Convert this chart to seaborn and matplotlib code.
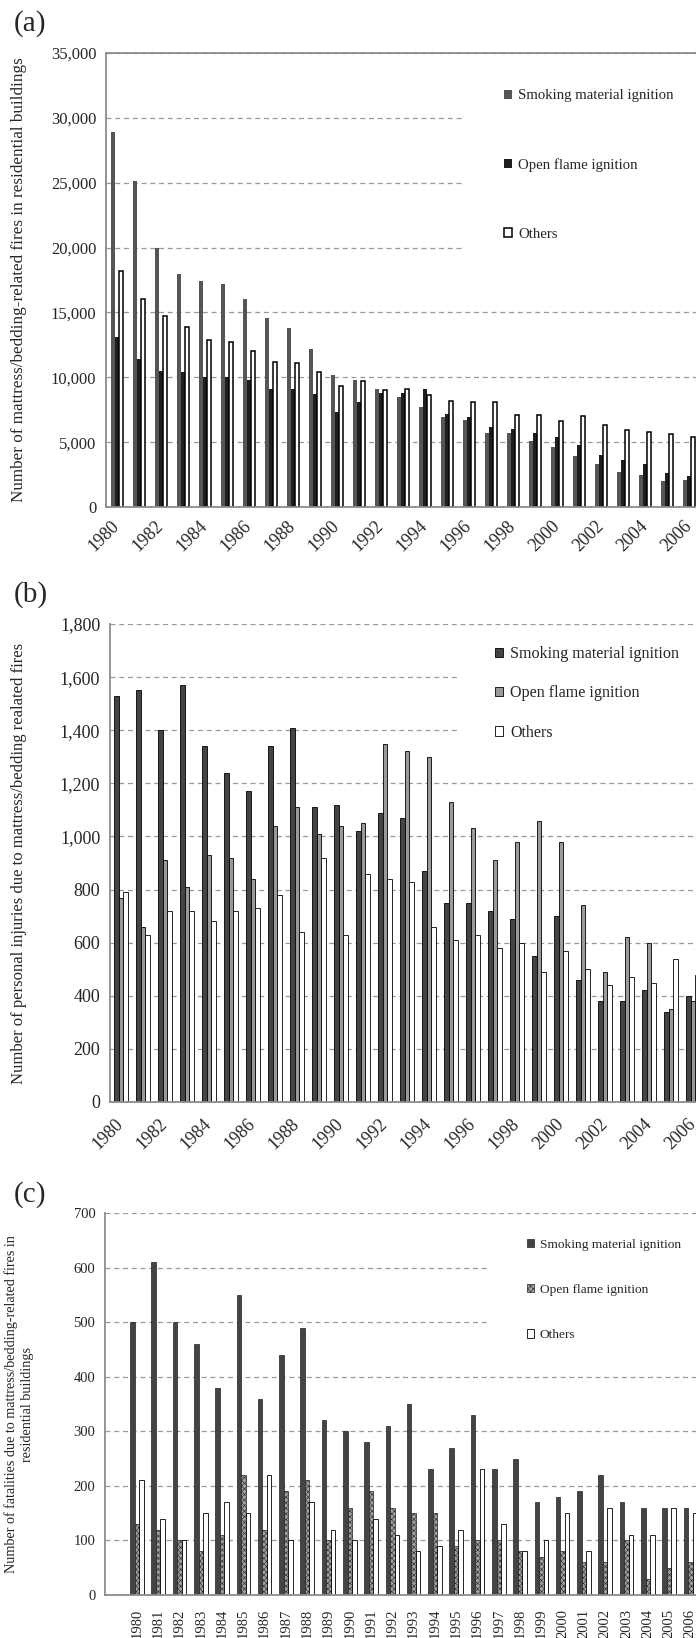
import matplotlib
matplotlib.use('Agg')
import matplotlib.pyplot as plt
import matplotlib.ticker as mticker
from matplotlib.patches import Rectangle
import numpy as np
import pandas as pd
import seaborn as sns

years = list(range(1980, 2007))
causes = ['Smoking material ignition', 'Open flame ignition', 'Others']

# (a) number of fires
fires_smoking = [28900, 25100, 20000, 18000, 17400, 17200, 16000, 14600, 13800, 12200,
                 10200, 9800, 9100, 8500, 7700, 6900, 6700, 5700, 5700, 5100,
                 4600, 3900, 3300, 2700, 2500, 2000, 2100]
fires_open = [13100, 11400, 10500, 10400, 10000, 10000, 9800, 9100, 9100, 8700,
              7300, 8100, 8800, 8800, 9100, 7200, 6900, 6200, 6000, 5700,
              5400, 4800, 4000, 3600, 3300, 2600, 2400]
fires_other = [18200, 16000, 14700, 13900, 12900, 12700, 12000, 11200, 11100, 10400,
               9300, 9700, 9000, 9100, 8600, 8200, 8100, 8100, 7100, 7100,
               6600, 7000, 6300, 5900, 5800, 5600, 5400]

# (b) personal injuries
inj_smoking = [1530, 1550, 1400, 1570, 1340, 1240, 1170, 1340, 1410, 1110,
               1120, 1020, 1090, 1070, 870, 750, 750, 720, 690, 550,
               700, 460, 380, 380, 420, 340, 400]
inj_open = [770, 660, 910, 810, 930, 920, 840, 1040, 1110, 1010,
            1040, 1050, 1350, 1320, 1300, 1130, 1030, 910, 980, 1060,
            980, 740, 490, 620, 600, 350, 380]
inj_other = [790, 630, 720, 720, 680, 720, 730, 780, 640, 920,
             630, 860, 840, 830, 660, 610, 630, 580, 600, 490,
             570, 500, 440, 470, 450, 540, 480]

# (c) fatalities
fat_smoking = [500, 610, 500, 460, 380, 550, 360, 440, 490, 320,
               300, 280, 310, 350, 230, 270, 330, 230, 250, 170,
               180, 190, 220, 170, 160, 160, 160]
fat_open = [130, 120, 100, 80, 110, 220, 120, 190, 210, 100,
            160, 190, 160, 150, 150, 90, 100, 100, 80, 70,
            80, 60, 60, 100, 30, 50, 60]
fat_other = [210, 140, 100, 150, 170, 150, 220, 100, 170, 120,
             100, 140, 110, 80, 90, 120, 230, 130, 80, 100,
             150, 80, 160, 110, 110, 160, 150]


def make_frame(s, o, t):
    return pd.DataFrame({
        'year': [str(y) for y in years] * 3,
        'cause': np.repeat(causes, len(years)),
        'value': s + o + t,
    })


sns.set_style('white')
plt.rcParams['font.family'] = ['Liberation Serif', 'DejaVu Serif']
plt.rcParams['hatch.linewidth'] = 0.4

W, H = 696, 1638
fig = plt.figure(figsize=(W / 100, H / 100), dpi=100)
GRAY = '#8c8c8c'


def axes_px(left, top, width, height):
    return fig.add_axes([left / W, 1 - (top + height) / H, width / W, height / H])


def white_box(ax, left, top, width, height):
    # the legend area hides the gridlines behind it
    ax.add_patch(Rectangle((left / W, 1 - (top + height) / H), width / W, height / H,
                           transform=fig.transFigure, facecolor='white',
                           edgecolor='none', zorder=0.8, clip_on=False))


def panel(ax, df, colors, edges, widths, group_w, ymax, ystep, tick_fs):
    order = [str(y) for y in years]
    sns.barplot(data=df, x='year', y='value', hue='cause', order=order,
                hue_order=causes, palette=colors, width=group_w, saturation=1,
                errorbar=None, legend=False, ax=ax)
    for cont, ec, lw in zip(ax.containers, edges, widths):
        for p in cont:
            p.set_edgecolor(ec)
            p.set_linewidth(lw)
    ax.set_ylim(0, ymax)
    ax.set_yticks(np.arange(0, ymax + 1, ystep))
    ax.yaxis.set_major_formatter(mticker.StrMethodFormatter('{x:,.0f}'))
    ax.set_axisbelow(True)
    ax.yaxis.grid(True, linestyle=(0, (4, 3)), color='#9a9a9a', lw=0.9)
    ax.xaxis.grid(False)
    for side in ['left', 'bottom', 'top']:
        ax.spines[side].set_color(GRAY)
        ax.spines[side].set_linewidth(1.3)
    ax.spines['right'].set_visible(False)
    ax.tick_params(axis='y', length=4, color=GRAY, width=1, labelsize=tick_fs, pad=3)
    ax.set_xlabel('')
    ax.set_ylabel('')


def year_ticks(ax, first, every_other, fs, rot, pad):
    ax.set_xlim(first, len(years) - 0.5)
    ax.set_xticks(range(len(years)))
    labels = [str(y) if (y % 2 == 0 or not every_other) else '' for y in years]
    ax.set_xticklabels(labels, fontsize=fs)
    ax.set_xticks(np.arange(first, len(years), 1), minor=True)
    ax.tick_params(axis='x', which='major', length=0, pad=pad)
    ax.tick_params(axis='x', which='minor', length=5, color=GRAY, width=1)
    for lab in ax.get_xticklabels():
        lab.set_rotation(rot)
        if rot == 45:
            lab.set_ha('right')
            lab.set_va('center')
            lab.set_rotation_mode('anchor')
        else:
            lab.set_ha('center')
            lab.set_va('top')


# ---------------- (a)
ax = axes_px(106, 53, 594, 454)
panel(ax, make_frame(fires_smoking, fires_open, fires_other),
      ['#555555', '#1e1e1e', 'white'], ['none', 'none', 'black'], [0, 0, 1.1],
      0.52, 35000, 5000, 12)
year_ticks(ax, -0.5, True, 13, 45, 12)
ax.yaxis.set_label_coords(-0.133, 0.516)
ax.set_ylabel('Number of mattress/bedding-related fires in residential buildings', fontsize=12.3)
white_box(ax, 463, 58, 245, 222)
ax.legend(ax.containers, causes, loc='upper left', bbox_to_anchor=(497 / W, 1 - 82 / H),
          bbox_transform=fig.transFigure, frameon=False, fontsize=10.6, borderpad=0,
          handlelength=0.55, handleheight=0.55, handletextpad=0.4, labelspacing=3.8)
fig.text(14 / W, 1 - 24 / H, '(a)', fontsize=21, va='center', ha='left')

# ---------------- (b)
ax = axes_px(110, 624, 594, 478)
panel(ax, make_frame(inj_smoking, inj_open, inj_other),
      ['#444444', '#9a9a9a', 'white'], ['black', 'black', 'black'], [0.6, 0.6, 0.6],
      0.66, 1800, 200, 13)
ax.spines['top'].set_visible(False)
year_ticks(ax, -0.5, True, 13, 45, 14)
ax.yaxis.set_label_coords(-0.14, 0.462)
ax.set_ylabel('Number of personal injuries due to mattress/bedding realated fires', fontsize=12)
white_box(ax, 458, 636, 250, 112)
ax.legend(ax.containers, causes, loc='upper left', bbox_to_anchor=(487 / W, 1 - 638 / H),
          bbox_transform=fig.transFigure, frameon=False, fontsize=11.6, borderpad=0,
          handlelength=0.52, handleheight=0.52, handletextpad=0.43, labelspacing=1.45)
fig.text(14 / W, 1 - 595 / H, '(b)', fontsize=21, va='center', ha='left')

# ---------------- (c)
ax = axes_px(105, 1213, 596, 382)
panel(ax, make_frame(fat_smoking, fat_open, fat_other),
      ['#444444', '#a0a0a0', 'white'], ['#222222', '#222222', 'black'], [0.5, 0.5, 0.6],
      0.64, 700, 100, 10.5)
for p in ax.containers[1]:
    p.set_hatch('xxxxxx')
ax.spines['top'].set_visible(False)
year_ticks(ax, -1.5, False, 10.5, 90, 10)
ax.yaxis.set_label_coords(-0.119, 0.487)
ax.set_ylabel('Number of fatalities due to mattress/bedding-related fires in\nresidential buildings',
              fontsize=10.2, linespacing=1.3)
white_box(ax, 487, 1228, 220, 118)
ax.legend(ax.containers, causes, loc='upper left', bbox_to_anchor=(520 / W, 1 - 1232 / H),
          bbox_transform=fig.transFigure, frameon=False, fontsize=9.6, borderpad=0,
          handlelength=0.58, handleheight=0.58, handletextpad=0.4, labelspacing=2.5)
fig.text(14 / W, 1 - 1195 / H, '(c)', fontsize=21, va='center', ha='left')

fig.savefig('out.png', dpi=100)
